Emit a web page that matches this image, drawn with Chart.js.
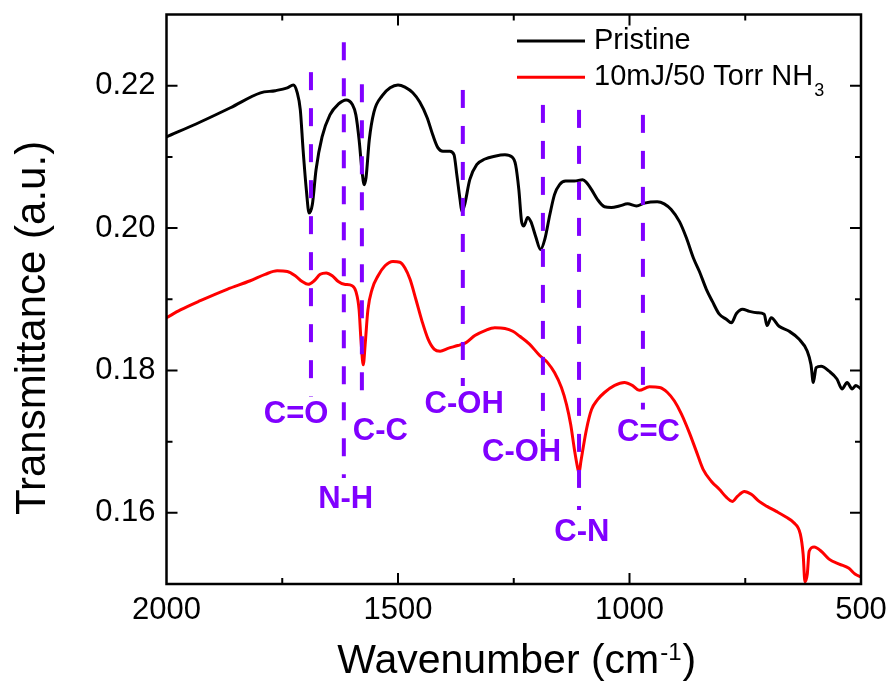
<!DOCTYPE html>
<html>
<head>
<meta charset="utf-8">
<title>FTIR transmittance</title>
<script src="https://cdn.jsdelivr.net/npm/chart.js@4.4.1/dist/chart.umd.min.js"></script>
<style>
  body { margin: 0; background: #fff; }
</style>
</head>
<body>
<canvas id="ftirChart" width="890" height="681"></canvas>
<script>
// Pristine spectrum (wavenumber in cm-1, transmittance)
let pristineWave = [2000,1927,1862,1797,1765,1739,1726,1718,1711,1705,1698,1692,1685,1677,1664,1647,1629,1612,1599,1591,
  1584,1578,1573,1569,1562,1552,1534,1517,1500,1485,1468,1453,1437,1425,1414,1403,1388,1379,1373,1366,
  1362,1356,1345,1330,1312,1291,1269,1254,1246,1239,1233,1228,1220,1213,1203,1192,1183,1172,1162,1151,
  1138,1119,1101,1093,1082,1069,1054,1039,1022,1004,985,968,940,925,910,892,877,862,849,834,
  821,806,791,780,769,756,741,724,709,703,694,677,655,634,616,608,603,597,586,569,
  552,541,530,519,511,500];
let pristineT = [0.2128,0.2149,0.2169,0.2190,0.2193,0.2197,0.2201,0.2191,0.2166,0.2110,0.2054,0.2021,0.2033,0.2082,0.2128,0.2159,0.2174,0.2180,0.2174,0.2159,
  0.2124,0.2082,0.2061,0.2071,0.2124,0.2163,0.2186,0.2197,0.2201,0.2198,0.2190,0.2177,0.2155,0.2131,0.2113,0.2108,0.2108,0.2103,0.2075,0.2040,
  0.2023,0.2033,0.2068,0.2089,0.2097,0.2101,0.2103,0.2100,0.2089,0.2054,0.2009,0.2003,0.2015,0.2009,0.1989,0.1970,0.1984,0.2019,0.2047,0.2061,
  0.2066,0.2066,0.2068,0.2064,0.2054,0.2040,0.2030,0.2029,0.2031,0.2034,0.2031,0.2035,0.2037,0.2034,0.2026,0.2009,0.1986,0.1958,0.1939,0.1914,
  0.1897,0.1879,0.1872,0.1867,0.1880,0.1886,0.1883,0.1881,0.1879,0.1863,0.1874,0.1862,0.1855,0.1844,0.1827,0.1808,0.1783,0.1804,0.1806,0.1799,
  0.1788,0.1774,0.1783,0.1774,0.1779,0.1774];

// 10mJ / 50 Torr NH3 treated spectrum
let nh3Wave = [2000,1970,1927,1869,1819,1787,1761,1739,1722,1707,1694,1681,1668,1655,1642,1629,1616,1599,1591,1584,
  1580,1575,1571,1565,1556,1543,1528,1511,1496,1485,1474,1461,1448,1435,1422,1409,1392,1371,1353,1334,
  1312,1291,1269,1252,1237,1216,1194,1177,1162,1147,1136,1127,1119,1112,1109,1105,1093,1082,1069,1054,
  1032,1011,994,979,957,935,918,903,888,871,856,841,823,806,791,778,767,752,737,720,
  703,683,662,645,631,625,621,616,612,601,586,569,547,526,513,500];
let nh3T = [0.1874,0.1885,0.1898,0.1914,0.1926,0.1935,0.1940,0.1939,0.1933,0.1925,0.1921,0.1926,0.1935,0.1937,0.1933,0.1925,0.1921,0.1919,0.1911,0.1885,
  0.1843,0.1808,0.1836,0.1885,0.1914,0.1933,0.1947,0.1953,0.1952,0.1944,0.1928,0.1899,0.1869,0.1844,0.1830,0.1827,0.1831,0.1835,0.1839,0.1849,
  0.1856,0.1860,0.1859,0.1855,0.1848,0.1837,0.1821,0.1811,0.1797,0.1776,0.1752,0.1724,0.1689,0.1663,0.1656,0.1672,0.1717,0.1745,0.1759,0.1769,
  0.1779,0.1783,0.1779,0.1772,0.1777,0.1776,0.1769,0.1757,0.1739,0.1713,0.1687,0.1661,0.1644,0.1633,0.1622,0.1616,0.1623,0.1630,0.1626,0.1616,
  0.1609,0.1602,0.1594,0.1586,0.1570,0.1542,0.1503,0.1514,0.1546,0.1552,0.1546,0.1535,0.1528,0.1522,0.1514,0.1510];

// Peak assignments: dashed line position and extent, label anchor
let peakNames = ['C=O', 'N-H', 'C-C', 'C-OH', 'C-OH', 'C-N', 'C=C'];
let peakWave = [1688, 1617, 1578, 1360, 1187, 1109, 971];
let peakTop = [0.2219, 0.2261, 0.2202, 0.2194, 0.2173, 0.2166, 0.2159];
let peakBottom = [0.1763, 0.1649, 0.1747, 0.1778, 0.1707, 0.1604, 0.1745];
let peakLabelWave = [1720, 1613, 1538, 1357, 1233, 1103, 959];
let peakLabelT = [0.1739, 0.1620, 0.1716, 0.1753, 0.1686, 0.1574, 0.1714];

// Tick labels
let xTickLabels = [2000, 1500, 1000, 500];
let yTickLabels = ['0.16', '0.18', '0.20', '0.22'];

const FONT = '"Liberation Sans", Arial, sans-serif';
const PURPLE = '#8000ff';

function toPoints(xs, ys) {
  return xs.map((x, i) => ({ x: x, y: ys[i] }));
}

let datasets = [
  {
    label: 'Pristine', data: toPoints(pristineWave, pristineT),
    borderColor: '#000000', borderWidth: 3, order: 2
  },
  {
    label: '10mJ/50 Torr NH', sub: '3', data: toPoints(nh3Wave, nh3T),
    borderColor: '#ff0000', borderWidth: 3, order: 3
  }
];
// one dashed line per peak, drawn top to bottom so the dash starts at the top
for (let i = 0; i < peakWave.length; i++) {
  datasets.push({
    label: peakNames[i], marker: true,
    data: [{ x: peakWave[i], y: peakTop[i] }, { x: peakWave[i], y: peakBottom[i] }],
    borderColor: PURPLE, borderWidth: 4, borderDash: [18, 18], order: 1
  });
}
datasets.forEach(d => {
  d.showLine = true;
  d.pointRadius = 0;
  d.fill = false;
  if (!d.marker) d.cubicInterpolationMode = 'monotone';
});

// Origin-like frame, inward ticks, axis titles, legend and peak labels
let originStyle = {
  id: 'originStyle',
  afterDraw(chart) {
    let ctx = chart.ctx;
    let a = chart.chartArea;
    let xs = chart.scales.x, ys = chart.scales.y;
    ctx.save();

    // frame
    ctx.strokeStyle = '#000';
    ctx.lineWidth = 2.5;
    ctx.strokeRect(a.left, a.top, a.right - a.left, a.bottom - a.top);

    // ticks on all four sides
    ctx.lineWidth = 2;
    ctx.beginPath();
    xs.ticks.forEach(t => {
      if (t.value <= xs.min || t.value >= xs.max) return;
      let px = xs.getPixelForValue(t.value);
      let len = xTickLabels.includes(t.value) ? 11 : 6;
      ctx.moveTo(px, a.bottom); ctx.lineTo(px, a.bottom - len);
      ctx.moveTo(px, a.top); ctx.lineTo(px, a.top + len);
    });
    ys.ticks.forEach(t => {
      if (t.value <= ys.min + 1e-9 || t.value >= ys.max - 1e-9) return;
      let py = ys.getPixelForValue(t.value);
      let len = yTickLabels.includes(t.value.toFixed(2)) ? 11 : 6;
      ctx.moveTo(a.left, py); ctx.lineTo(a.left + len, py);
      ctx.moveTo(a.right, py); ctx.lineTo(a.right - len, py);
    });
    ctx.stroke();

    ctx.fillStyle = '#000';

    // x axis title with superscript
    ctx.textBaseline = 'alphabetic';
    ctx.textAlign = 'left';
    let mainFont = '41px ' + FONT, supFont = '24px ' + FONT;
    ctx.font = mainFont;
    let p1 = 'Wavenumber (cm', p3 = ')';
    let w1 = ctx.measureText(p1).width, w3 = ctx.measureText(p3).width;
    ctx.font = supFont;
    let w2 = ctx.measureText('-1').width;
    let startX = (a.left + a.right) / 2 + 3 - (w1 + w2 + 2 + w3) / 2;
    let baseY = 673;
    ctx.font = mainFont;
    ctx.fillText(p1, startX, baseY);
    ctx.font = supFont;
    ctx.fillText('-1', startX + w1 + 1, baseY - 13);
    ctx.font = mainFont;
    ctx.fillText(p3, startX + w1 + w2 + 2, baseY);

    // y axis title
    ctx.save();
    ctx.translate(45, 328);
    ctx.rotate(-Math.PI / 2);
    ctx.textAlign = 'center';
    ctx.font = '42px ' + FONT;
    ctx.fillText('Transmittance (a.u.)', 0, 0);
    ctx.restore();

    // legend inside the plot
    let legendItems = chart.data.datasets.filter(d => !d.marker);
    ctx.textBaseline = 'middle';
    ctx.textAlign = 'left';
    legendItems.forEach((d, i) => {
      let y = a.top + 26.5 + i * 36.3;
      ctx.strokeStyle = d.borderColor;
      ctx.lineWidth = 3;
      ctx.beginPath();
      ctx.moveTo(517, y); ctx.lineTo(585, y);
      ctx.stroke();
      ctx.fillStyle = '#000';
      ctx.font = '29px ' + FONT;
      ctx.fillText(d.label, 594, y);
      if (d.sub) {
        let w = ctx.measureText(d.label).width;
        ctx.font = '18px ' + FONT;
        ctx.fillText(d.sub, 594 + w + 1, y + 14);
      }
    });

    // peak labels
    ctx.fillStyle = PURPLE;
    ctx.font = 'bold 31px ' + FONT;
    ctx.textAlign = 'center';
    ctx.textBaseline = 'middle';
    peakNames.forEach((name, i) => {
      ctx.fillText(name, xs.getPixelForValue(peakLabelWave[i]), ys.getPixelForValue(peakLabelT[i]) + 1);
    });

    ctx.restore();
  }
};

new Chart(document.getElementById('ftirChart'), {
  type: 'scatter',
  data: { datasets: datasets },
  options: {
    responsive: false,
    animation: false,
    devicePixelRatio: 1,
    layout: { padding: { top: 14.5, right: 29, left: 0, bottom: 0 } },
    plugins: { legend: { display: false }, tooltip: { enabled: false } },
    scales: {
      x: {
        type: 'linear', reverse: true, min: 500, max: 2000,
        grid: { display: false, drawTicks: false },
        border: { display: false },
        ticks: {
          stepSize: 250, autoSkip: false, maxRotation: 0, padding: 8,
          color: '#000', font: { family: FONT, size: 31 },
          callback: v => xTickLabels.includes(v) ? String(v) : ''
        },
        afterFit: s => { s.height = 97; s.paddingLeft = 0; s.paddingRight = 0; }
      },
      y: {
        type: 'linear', min: 0.15, max: 0.23,
        grid: { display: false, drawTicks: false },
        border: { display: false },
        ticks: {
          stepSize: 0.01, autoSkip: false, padding: 11,
          color: '#000', font: { family: FONT, size: 31 },
          callback: v => yTickLabels.includes(v.toFixed(2)) ? v.toFixed(2) : ''
        },
        afterFit: s => { s.width = 166.5; s.paddingTop = 0; s.paddingBottom = 0; }
      }
    }
  },
  plugins: [originStyle]
});
</script>
</body>
</html>
